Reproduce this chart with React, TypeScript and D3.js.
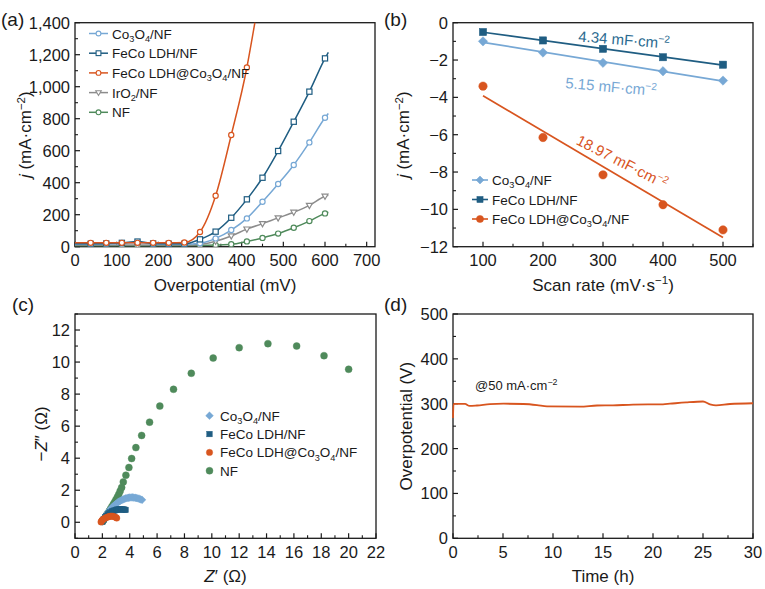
import React from "react";
import * as d3 from "d3";

const FONT = "'Liberation Sans', Arial, Helvetica, sans-serif";
const C_CO = "#77a8d5";
const C_LDH = "#1f5d82";
const C_HET = "#d8551f";
const C_IR = "#8c8c8c";
const C_NF = "#4f8a5b";
const INK = "#1a1a1a";

// ---------- (a) LSV ----------
const lsvPotential = [0, 37.5, 75, 112.5, 150, 187.5, 225, 262.5, 300, 337.5, 375, 412.5, 450, 487.5, 525, 562.5, 600, 608];
const lsvCo3O4 = [15, 15, 17, 20, 26, 17, 15, 15, 21, 52, 104, 177, 281, 392, 511, 652, 806, 833];
const lsvLDH = [18, 18, 20, 24, 32, 20, 18, 18, 46, 94, 181, 296, 431, 598, 781, 969, 1177, 1215];
const lsvIrO2 = [10, 10, 10, 10, 10, 10, 10, 10, 14, 34, 67, 110, 144, 180, 215, 258, 315, 322];
const lsvNF = [6, 6, 6, 6, 6, 6, 6, 6, 7, 10, 15, 33, 55, 82, 118, 160, 208, 215];
const lsvHetPotential = [0, 37.5, 75, 112.5, 150, 187.5, 225, 262.5, 300, 337.5, 375, 412.5, 425, 433];
const lsvHet = [24, 24, 24, 24, 24, 24, 24, 26, 92, 318, 698, 1120, 1300, 1420];

// ---------- (b) Cdl ----------
const scanRates = [100, 200, 300, 400, 500];
const cdlCo3O4 = [-1.0, -1.6, -2.15, -2.6, -3.1];
const cdlLDH = [-0.5, -0.95, -1.4, -1.85, -2.25];
const cdlHet = [-3.4, -6.15, -8.15, -9.75, -11.1];
const cdlLabels = ["5.15 mF·cm^{−2}", "4.34 mF·cm^{−2}", "18.97 mF·cm^{−2}"];

// ---------- (c) Nyquist ----------
const nfZre = [2.02, 2.1, 2.2, 2.3, 2.4, 2.5, 2.6, 2.7, 2.8, 2.9, 3.0, 3.1, 3.2, 3.3, 3.41, 3.53, 3.72, 3.94, 4.14, 4.45, 4.87, 5.45, 6.2, 7.2, 8.5, 10.1, 12.0, 14.1, 16.2, 18.2, 20.0];
const nfZim = [0.05, 0.15, 0.28, 0.42, 0.56, 0.7, 0.84, 0.98, 1.12, 1.27, 1.42, 1.58, 1.75, 1.95, 2.17, 2.52, 2.94, 3.42, 3.98, 4.66, 5.42, 6.25, 7.25, 8.3, 9.3, 10.25, 10.9, 11.15, 11.0, 10.4, 9.55];
const coZre = [2.0, 2.1, 2.2, 2.3, 2.4, 2.5, 2.6, 2.7, 2.8, 2.9, 3.0, 3.1, 3.2, 3.3, 3.4, 3.5, 3.6, 3.7, 3.8, 3.9, 4.0, 4.1, 4.2, 4.3, 4.4, 4.5, 4.6, 4.7, 4.8, 4.9];
const coZim = [0.05, 0.2, 0.35, 0.48, 0.6, 0.72, 0.82, 0.92, 1.0, 1.08, 1.15, 1.22, 1.28, 1.33, 1.38, 1.42, 1.46, 1.49, 1.51, 1.53, 1.54, 1.55, 1.55, 1.54, 1.53, 1.51, 1.49, 1.46, 1.43, 1.4];
const ldhZre = [2.0, 2.1, 2.2, 2.3, 2.4, 2.5, 2.6, 2.7, 2.8, 2.9, 3.0, 3.1, 3.2, 3.3, 3.4, 3.5, 3.6, 3.7];
const ldhZim = [0.05, 0.18, 0.3, 0.4, 0.49, 0.56, 0.62, 0.67, 0.71, 0.74, 0.77, 0.79, 0.8, 0.81, 0.81, 0.8, 0.79, 0.77];
const hetZre = [1.9, 1.95, 2.0, 2.1, 2.2, 2.3, 2.4, 2.5, 2.6, 2.7, 2.8, 2.9, 3.0, 3.05];
const hetZim = [0.02, 0.08, 0.14, 0.2, 0.26, 0.3, 0.33, 0.36, 0.38, 0.38, 0.37, 0.34, 0.3, 0.26];

// ---------- (d) stability ----------
const timeH = [0, 0.05, 1.2, 1.66, 2.4, 3.7, 5.05, 7.05, 8.4, 9.4, 12.7, 14.4, 16, 18, 21, 21.7, 23.3, 25, 25.7, 26.3, 27.7, 30];
const etaMV = [268, 299.5, 299.5, 295, 296, 299, 300, 299.4, 297, 294, 293.5, 296, 296.4, 298, 298.7, 300, 303, 305, 298.7, 296.4, 299.4, 301];

type Part = { t: string; sub?: boolean; sup?: boolean; it?: boolean };
function parse(s: string): Part[] {
  const parts: Part[] = [];
  let i = 0, buf = "", it = false;
  const flush = () => { if (buf) { parts.push({ t: buf, it }); buf = ""; } };
  while (i < s.length) {
    const c = s[i];
    if (c === "_" || c === "^") {
      flush();
      let t = "";
      if (s[i + 1] === "{") { const j = s.indexOf("}", i); t = s.slice(i + 2, j); i = j + 1; }
      else { t = s[i + 1]; i += 2; }
      parts.push({ t, sub: c === "_", sup: c === "^", it });
      continue;
    }
    if (c === "*") { flush(); it = !it; i++; continue; }
    buf += c; i++;
  }
  flush();
  return parts;
}

function Rich(props: { s: string; x: number; y: number; fs: number; fill?: string; anchor?: string; transform?: string }) {
  const { s, x, y, fs, fill = INK, anchor = "start", transform } = props;
  let cur = 0;
  const spans = parse(s).map((p, i) => {
    const target = p.sub ? fs * 0.25 : p.sup ? -fs * 0.38 : 0;
    const dy = target - cur; cur = target;
    return (
      <tspan key={i} dy={dy} fontSize={p.sub || p.sup ? fs * 0.68 : fs} fontStyle={p.it ? "italic" : undefined}>{p.t}</tspan>
    );
  });
  return (
    <text x={x} y={y} fontSize={fs} fill={fill} textAnchor={anchor as any} transform={transform} fontFamily={FONT}>{spans}</text>
  );
}

type Sc = d3.ScaleLinear<number, number>;
function Axes(p: {
  x: Sc; y: Sc; xTicks: number[]; xMinor: number[]; yTicks: number[]; yMinor: number[];
  xFmt: (v: number) => string; yFmt: (v: number) => string;
  xTitle: string; yTitle: string; yTitleX: number; yTitleY?: number; label: string; labelX: number; labelY: number;
}) {
  const [x0, x1] = p.x.range();
  const [y0, y1] = p.y.range();
  const fs = 16.5;
  const yMid = p.yTitleY ?? (y0 + y1) / 2;
  return (
    <g>
      <rect x={x0} y={y1} width={x1 - x0} height={y0 - y1} fill="none" stroke={INK} strokeWidth={1.3} />
      {p.xTicks.map((v) => (
        <g key={"xt" + v}>
          <line x1={p.x(v)} x2={p.x(v)} y1={y0} y2={y0 - 5} stroke={INK} strokeWidth={1.2} />
          <text x={p.x(v)} y={y0 + 19.5} fontSize={fs} textAnchor="middle" fill={INK} fontFamily={FONT}>{p.xFmt(v)}</text>
        </g>
      ))}
      {p.xMinor.map((v) => (
        <line key={"xm" + v} x1={p.x(v)} x2={p.x(v)} y1={y0} y2={y0 - 3} stroke={INK} strokeWidth={1.1} />
      ))}
      {p.yTicks.map((v) => (
        <g key={"yt" + v}>
          <line x1={x0} x2={x0 + 5} y1={p.y(v)} y2={p.y(v)} stroke={INK} strokeWidth={1.2} />
          <text x={x0 - 5} y={p.y(v) + 6} fontSize={fs} textAnchor="end" fill={INK} fontFamily={FONT}>{p.yFmt(v)}</text>
        </g>
      ))}
      {p.yMinor.map((v) => (
        <line key={"ym" + v} x1={x0} x2={x0 + 3} y1={p.y(v)} y2={p.y(v)} stroke={INK} strokeWidth={1.1} />
      ))}
      <Rich s={p.xTitle} x={(x0 + x1) / 2} y={y0 + 44} fs={17} anchor="middle" />
      <Rich s={p.yTitle} x={0} y={0} fs={17} anchor="middle" transform={`translate(${p.yTitleX},${yMid}) rotate(-90)`} />
      <text x={p.labelX} y={p.labelY} fontSize={19} fill={INK} fontFamily={FONT}>{p.label}</text>
    </g>
  );
}

function Marker(props: { kind: string; x: number; y: number; color: string; r: number; fill?: string; sw?: number }) {
  const { kind, x, y, color, r, fill = color, sw = 1.2 } = props;
  if (kind === "circle") return <circle cx={x} cy={y} r={r} fill={fill} stroke={color} strokeWidth={sw} />;
  if (kind === "square") return <rect x={x - r} y={y - r} width={2 * r} height={2 * r} fill={fill} stroke={color} strokeWidth={sw} />;
  if (kind === "diamond") return <path d={`M${x},${y - r * 1.3}L${x + r * 1.3},${y}L${x},${y + r * 1.3}L${x - r * 1.3},${y}Z`} fill={fill} stroke={color} strokeWidth={sw} />;
  // down triangle
  return <path d={`M${x - r * 1.15},${y - r * 0.8}L${x + r * 1.15},${y - r * 0.8}L${x},${y + r * 1.2}Z`} fill={fill} stroke={color} strokeWidth={sw} />;
}

function range(a: number, b: number, s: number) { return d3.range(a, b + s / 2, s); }

function regress(xs: number[], ys: number[]) {
  const mx = d3.mean(xs)!, my = d3.mean(ys)!;
  let sxy = 0, sxx = 0;
  xs.forEach((x, i) => { sxy += (x - mx) * (ys[i] - my); sxx += (x - mx) * (x - mx); });
  const b = sxy / sxx;
  return (x: number) => my + b * (x - mx);
}

export default function App() {
  // ---- scales ----
  const xa = d3.scaleLinear().domain([0, 720]).range([75, 375]);
  const ya = d3.scaleLinear().domain([0, 1400]).range([246.7, 22.7]);
  const xb = d3.scaleLinear().domain([50, 550]).range([453, 753]);
  const yb = d3.scaleLinear().domain([-12, 0]).range([246.7, 22.7]);
  const xc = d3.scaleLinear().domain([0, 22]).range([75, 376]);
  const yc = d3.scaleLinear().domain([-1, 13]).range([538.3, 314]);
  const xd = d3.scaleLinear().domain([0, 30]).range([453, 753]);
  const yd = d3.scaleLinear().domain([0, 500]).range([538.3, 314]);

  const lineA = d3.line<[number, number]>().x((d) => xa(d[0])).y((d) => ya(d[1])).curve(d3.curveMonotoneX);
  const seriesA = [
    { name: "Co_3O_4/NF", xs: lsvPotential, ys: lsvCo3O4, color: C_CO, kind: "circle" },
    { name: "FeCo LDH/NF", xs: lsvPotential, ys: lsvLDH, color: C_LDH, kind: "square" },
    { name: "FeCo LDH@Co_3O_4/NF", xs: lsvHetPotential, ys: lsvHet, color: C_HET, kind: "circle" },
    { name: "IrO_2/NF", xs: lsvPotential, ys: lsvIrO2, color: C_IR, kind: "tri" },
    { name: "NF", xs: lsvPotential, ys: lsvNF, color: C_NF, kind: "circle" },
  ];
  const drawOrderA = [4, 3, 0, 1, 2];

  const seriesB = [
    { name: "Co_3O_4/NF", ys: cdlCo3O4, color: C_CO, kind: "diamond", r: 3.6 },
    { name: "FeCo LDH/NF", ys: cdlLDH, color: C_LDH, kind: "square", r: 3.6 },
    { name: "FeCo LDH@Co_3O_4/NF", ys: cdlHet, color: C_HET, kind: "circle", r: 4.2 },
  ];

  const seriesC = [
    { name: "Co_3O_4/NF", xs: coZre, ys: coZim, color: C_CO, kind: "diamond", r: 3 },
    { name: "FeCo LDH/NF", xs: ldhZre, ys: ldhZim, color: C_LDH, kind: "square", r: 2.8 },
    { name: "FeCo LDH@Co_3O_4/NF", xs: hetZre, ys: hetZim, color: C_HET, kind: "circle", r: 3.2 },
    { name: "NF", xs: nfZre, ys: nfZim, color: C_NF, kind: "circle", r: 3.5 },
  ];
  const drawOrderC = [3, 0, 1, 2];

  const lineD = d3.line<[number, number]>().x((d) => xd(d[0])).y((d) => yd(d[1])).curve(d3.curveMonotoneX);

  const fmtComma = d3.format(",");
  const fmtInt = d3.format("d");

  return (
    <svg width={765} height={589} style={{ position: "absolute", left: 0, top: 0, background: "#fff" }} fontFamily={FONT}>
      <defs>
        <clipPath id="clipA"><rect x={75} y={22.7} width={300} height={224} /></clipPath>
      </defs>

      {/* ===== (a) ===== */}
      <Axes x={xa} y={ya} xTicks={range(0, 700, 100)} xMinor={range(50, 700, 100)} yTicks={range(0, 1400, 200)} yMinor={range(100, 1300, 200)}
        xFmt={fmtInt} yFmt={fmtComma} xTitle="Overpotential (mV)" yTitle="*j* (mA·cm^{−2})" yTitleX={31} label="(a)" labelX={1} labelY={26} />
      <g clipPath="url(#clipA)">
        {drawOrderA.map((i) => {
          const s = seriesA[i];
          const pts = s.xs.map((x, k) => [x, s.ys[k]] as [number, number]);
          return (
            <g key={s.name}>
              <path d={lineA(pts)!} fill="none" stroke={s.color} strokeWidth={1.5} />
              {pts.filter((d) => d[0] > 0 && d[0] <= 600 && Math.abs(d[0] / 37.5 - Math.round(d[0] / 37.5)) < 1e-6).map((d, k) => (
                <Marker key={k} kind={s.kind} x={xa(d[0])} y={ya(d[1])} color={s.color} r={2.6} fill="#fff" sw={1.2} />
              ))}
            </g>
          );
        })}
      </g>
      {seriesA.map((s, i) => {
        const yy = 33.5 + i * 19.7;
        return (
          <g key={"la" + i}>
            <line x1={89} x2={108} y1={yy} y2={yy} stroke={s.color} strokeWidth={1.5} />
            <Marker kind={s.kind} x={98.5} y={yy} color={s.color} r={2.4} fill="#fff" sw={1.1} />
            <Rich s={s.name} x={112} y={yy + 5} fs={13.5} />
          </g>
        );
      })}

      {/* ===== (b) ===== */}
      <Axes x={xb} y={yb} xTicks={range(100, 500, 100)} xMinor={range(150, 550, 100)} yTicks={range(-12, 0, 2)} yMinor={range(-11, -1, 2)}
        xFmt={fmtInt} yFmt={fmtInt} xTitle="Scan rate (mV·s^{−1})" yTitle="*j* (mA·cm^{−2})" yTitleX={409} label="(b)" labelX={384} labelY={26} />
      {seriesB.map((s) => {
        const f = regress(scanRates, s.ys);
        return (
          <g key={s.name}>
            <line x1={xb(100)} x2={xb(500)} y1={yb(f(100))} y2={yb(f(500))} stroke={s.color} strokeWidth={1.7} />
            {scanRates.map((x, k) => (
              <Marker key={k} kind={s.kind} x={xb(x)} y={yb(s.ys[k])} color={s.color} r={s.r} sw={0.5} />
            ))}
          </g>
        );
      })}
      <Rich s={cdlLabels[1]} x={624} y={45} fs={15} anchor="middle" fill="#2a6a90" transform="rotate(4.5,624,40)" />
      <Rich s={cdlLabels[0]} x={611} y={92} fs={15} anchor="middle" fill={C_CO} transform="rotate(5,611,87)" />
      <Rich s={cdlLabels[2]} x={622} y={167} fs={15} anchor="middle" fill={C_HET} transform="rotate(27,622,162)" />
      {seriesB.map((s, i) => {
        const yy = 180 + i * 19.5;
        return (
          <g key={"lb" + i}>
            <line x1={472} x2={488} y1={yy} y2={yy} stroke={s.color} strokeWidth={1.6} />
            <Marker kind={s.kind} x={480} y={yy} color={s.color} r={s.r * 0.85} sw={0.5} />
            <Rich s={s.name} x={492} y={yy + 5} fs={13.5} />
          </g>
        );
      })}

      {/* ===== (c) ===== */}
      <Axes x={xc} y={yc} xTicks={range(0, 22, 2)} xMinor={range(1, 21, 2)} yTicks={range(0, 12, 2)} yMinor={range(-1, 13, 2)}
        xFmt={fmtInt} yFmt={fmtInt} xTitle="*Z*′ (Ω)" yTitle="−*Z*″ (Ω)" yTitleX={47} yTitleY={434} label="(c)" labelX={12} labelY={311} />
      {drawOrderC.map((i) => {
        const s = seriesC[i];
        return (
          <g key={s.name}>
            {s.xs.map((x, k) => (
              <Marker key={k} kind={s.kind} x={xc(x)} y={yc(s.ys[k])} color={s.color} r={s.r} sw={0.4} />
            ))}
          </g>
        );
      })}
      {seriesC.map((s, i) => {
        const yy = 415.7 + i * 18.35;
        return (
          <g key={"lc" + i}>
            <Marker kind={s.kind} x={209.5} y={yy} color={s.color} r={s.r} sw={0.4} />
            <Rich s={s.name} x={220} y={yy + 5} fs={13.5} />
          </g>
        );
      })}

      {/* ===== (d) ===== */}
      <Axes x={xd} y={yd} xTicks={range(0, 30, 5)} xMinor={range(2.5, 27.5, 5)} yTicks={range(0, 500, 100)} yMinor={range(50, 450, 100)}
        xFmt={fmtInt} yFmt={fmtInt} xTitle="Time (h)" yTitle="Overpotential (V)" yTitleX={412} label="(d)" labelX={384} labelY={311} />
      <path d={lineD(timeH.map((t, k) => [t, etaMV[k]] as [number, number]))!} fill="none" stroke={C_HET} strokeWidth={1.8} />
      <Rich s="@50 mA·cm^{−2}" x={475} y={390} fs={13} />
    </svg>
  );
}
